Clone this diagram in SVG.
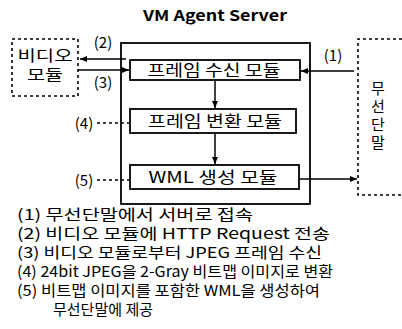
<svg xmlns="http://www.w3.org/2000/svg" width="402" height="329" viewBox="0 0 402 329">
<style>
text{font-family:"Noto Sans CJK KR","Noto Sans",sans-serif;fill:#000}
.box{fill:#fff;stroke:#000;stroke-width:1.8}
.dash{fill:none;stroke:#000;stroke-width:1.6;stroke-dasharray:3 3}
.ln{stroke:#000;stroke-width:1.5;fill:none}
.dl{stroke:#000;stroke-width:1.3;stroke-dasharray:3 3;fill:none}
.lbl{font-size:15px}
.leg{font-size:15px}
</style>
<defs>
<marker id="ah" markerWidth="8" markerHeight="8" refX="7" refY="4" orient="auto" markerUnits="userSpaceOnUse">
<path d="M0,1 L7,4 L0,7 Z" fill="#000"/>
</marker>
</defs>
<rect width="402" height="329" fill="#fff"/>
<text x="215" y="21" text-anchor="middle" font-size="15" font-weight="bold" font-family="'DejaVu Sans',sans-serif" textLength="144" lengthAdjust="spacingAndGlyphs">VM Agent Server</text>
<g id="server"><rect class="box" x="121" y="43" width="189" height="161" stroke-width="2"/></g>
<g id="video"><rect class="dash" x="12" y="39" width="66" height="57"/>
<text x="45" y="61" text-anchor="middle" font-size="15" textLength="55" lengthAdjust="spacingAndGlyphs">비디오</text>
<text x="45" y="80" text-anchor="middle" font-size="15" textLength="36" lengthAdjust="spacingAndGlyphs">모듈</text></g>
<g id="terminal"><path class="dash" d="M402,39 H358 V195 H402"/>
<text x="378" y="81" font-size="15" writing-mode="tb" letter-spacing="3">무선단말</text></g>
<g id="m1"><rect class="box" x="130" y="60" width="170" height="20"/>
<text x="214" y="76" text-anchor="middle" font-size="16" textLength="133" lengthAdjust="spacingAndGlyphs">프레임 수신 모듈</text></g>
<g id="m2"><rect class="box" x="130" y="109" width="166" height="24"/>
<text x="215" y="127" text-anchor="middle" font-size="16" textLength="134" lengthAdjust="spacingAndGlyphs">프레임 변환 모듈</text></g>
<g id="m3"><rect class="box" x="130" y="165" width="169" height="24"/>
<text x="213" y="183" text-anchor="middle" font-size="16" textLength="129" lengthAdjust="spacingAndGlyphs">WML 생성 모듈</text></g>
<g id="connectors">
<line class="ln" x1="126" y1="59" x2="80" y2="59" marker-end="url(#ah)"/>
<line class="ln" x1="78" y1="70" x2="129" y2="70" marker-end="url(#ah)"/>
<line class="ln" x1="354" y1="71" x2="301" y2="71" marker-end="url(#ah)"/>
<line class="ln" x1="215" y1="80" x2="215" y2="108" marker-end="url(#ah)"/>
<line class="ln" x1="215" y1="133" x2="215" y2="164" marker-end="url(#ah)"/>
<line class="ln" x1="299" y1="179" x2="357" y2="179" marker-end="url(#ah)"/>
<line class="dl" x1="97" y1="123" x2="130" y2="123"/>
<line class="dl" x1="97" y1="180" x2="130" y2="180"/>
<text class="lbl" x="103" y="48" text-anchor="middle">(2)</text>
<text class="lbl" x="103" y="88" text-anchor="middle">(3)</text>
<text class="lbl" x="333" y="61" text-anchor="middle">(1)</text>
<text class="lbl" x="84" y="129" text-anchor="middle">(4)</text>
<text class="lbl" x="84" y="186" text-anchor="middle">(5)</text>
</g>
<g id="legend">
<text class="leg" x="17" y="220" textLength="236" lengthAdjust="spacingAndGlyphs">(1) 무선단말에서 서버로 접속</text>
<text class="leg" x="17" y="239" textLength="313" lengthAdjust="spacingAndGlyphs">(2) 비디오 모듈에 HTTP Request  전송</text>
<text class="leg" x="17" y="258" textLength="305" lengthAdjust="spacingAndGlyphs">(3) 비디오 모듈로부터 JPEG 프레임 수신</text>
<text class="leg" x="17" y="277" textLength="316" lengthAdjust="spacingAndGlyphs">(4) 24bit JPEG을 2-Gray 비트맵 이미지로 변환</text>
<text class="leg" x="17" y="296" textLength="303" lengthAdjust="spacingAndGlyphs">(5) 비트맵 이미지를 포함한 WML을 생성하여</text>
<text class="leg" x="53" y="315" textLength="100" lengthAdjust="spacingAndGlyphs">무선단말에 제공</text>
</g>
</svg>
